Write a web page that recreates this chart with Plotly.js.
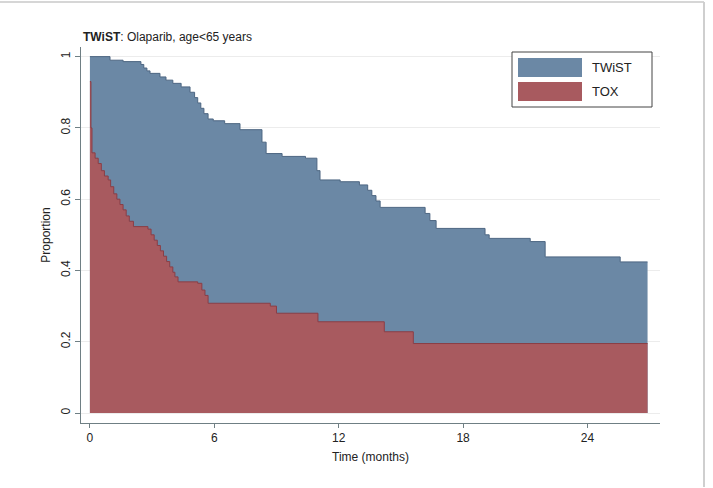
<!DOCTYPE html>
<html>
<head>
<meta charset="utf-8">
<script src="https://cdn.plot.ly/plotly-3.0.1.min.js"></script>
<style>html,body{margin:0;padding:0;background:#fff;}#chart{width:713px;height:488px;}</style>
</head>
<body>
<div id="chart"></div>
<script>
// Data (time in months, proportion)
const twistTime = [0, 0.97, 1.6, 2.46, 2.6, 2.75, 2.9, 3.38, 3.67, 4.0, 4.4, 4.83, 5.05, 5.2, 5.35, 5.5, 5.7, 5.95, 6.5, 7.24, 8.3, 8.5, 9.27, 10.4, 10.95, 11.1, 12.07, 13.0, 13.4, 13.6, 13.8, 14.0, 16.17, 16.4, 16.7, 19.06, 19.26, 21.24, 21.96, 25.58, 26.9];
const twistValue = [1.0, 0.99, 0.986, 0.978, 0.968, 0.96, 0.953, 0.943, 0.934, 0.925, 0.915, 0.90, 0.885, 0.87, 0.855, 0.84, 0.825, 0.82, 0.812, 0.795, 0.76, 0.728, 0.72, 0.715, 0.68, 0.654, 0.649, 0.64, 0.625, 0.61, 0.595, 0.577, 0.56, 0.54, 0.518, 0.50, 0.49, 0.481, 0.438, 0.424, 0.424];

const toxTime = [0, 0.05, 0.1, 0.25, 0.4, 0.55, 0.7, 0.88, 1.0, 1.15, 1.3, 1.45, 1.6, 1.75, 1.9, 2.1, 2.8, 2.95, 3.1, 3.25, 3.4, 3.55, 3.7, 3.85, 4.0, 4.1, 4.25, 5.2, 5.4, 5.55, 5.7, 8.7, 9.0, 11.0, 14.2, 15.6, 26.9];
const toxValue = [0.93, 0.80, 0.73, 0.715, 0.70, 0.68, 0.665, 0.654, 0.635, 0.615, 0.60, 0.585, 0.57, 0.553, 0.538, 0.523, 0.516, 0.50, 0.485, 0.47, 0.455, 0.44, 0.425, 0.41, 0.395, 0.382, 0.368, 0.364, 0.345, 0.33, 0.308, 0.30, 0.28, 0.256, 0.228, 0.195, 0.195];

const seriesNames = ["TWiST", "TOX"];
const xTicks = [0, 6, 12, 18, 24];
const yTicks = [0, 0.2, 0.4, 0.6, 0.8, 1];

const blueFill = "#6b88a5";
const blueLine = "#4d6682";
const redFill = "#a85a5f";
const redLine = "#8a3e46";
const axisCol = "#6f7f84";
const font = "Liberation Sans, Arial, sans-serif";

const traces = [
  {x: twistTime, y: twistValue, name: seriesNames[0], type: "scatter", mode: "lines",
   line: {shape: "hv", color: blueLine, width: 1}, fill: "tozeroy", fillcolor: blueFill, hoverinfo: "skip"},
  {x: toxTime, y: toxValue, name: seriesNames[1], type: "scatter", mode: "lines",
   line: {shape: "hv", color: redLine, width: 1}, fill: "tozeroy", fillcolor: redFill, hoverinfo: "skip"}
];

const L = 81, R = 660, T = 47, B = 423, W = 713, H = 488;
const px = v => (v - L) / (R - L);
const py = v => (B - v) / (B - T);

const shapes = [
  {type: "rect", xref: "paper", yref: "paper", x0: px(512), x1: px(652), y0: py(107), y1: py(52),
   line: {color: "#444", width: 1}, fillcolor: "#fff"},
  {type: "rect", xref: "paper", yref: "paper", x0: px(518), x1: px(582), y0: py(77), y1: py(58),
   line: {color: blueFill, width: 0}, fillcolor: blueFill},
  {type: "rect", xref: "paper", yref: "paper", x0: px(518), x1: px(582), y0: py(101), y1: py(82),
   line: {color: redFill, width: 0}, fillcolor: redFill},
  {type: "line", xref: "paper", yref: "paper", x0: px(0), x1: px(704), y0: py(2), y1: py(2),
   line: {color: "#d6d6d6", width: 2}},
  {type: "line", xref: "paper", yref: "paper", x0: px(704), x1: px(704), y0: py(2), y1: py(487),
   line: {color: "#cfcfcf", width: 2}}
];

const annotations = [
  {xref: "paper", yref: "paper", x: px(590), y: py(67.5), xanchor: "left", yanchor: "middle",
   text: seriesNames[0], showarrow: false, font: {family: font, size: 13, color: "#222"}},
  {xref: "paper", yref: "paper", x: px(590), y: py(91.5), xanchor: "left", yanchor: "middle",
   text: seriesNames[1], showarrow: false, font: {family: font, size: 13, color: "#222"}}
];

const layout = {
  width: W, height: H,
  margin: {l: L, r: W - R, t: T, b: H - B, pad: 0},
  paper_bgcolor: "#fff", plot_bgcolor: "#fff",
  showlegend: false,
  font: {family: font, size: 12, color: "#222"},
  title: {text: "<b>TWiST</b>: Olaparib, age&lt;65 years", x: px(83), xref: "paper", xanchor: "left",
          y: 1 - 37 / H, yref: "container", yanchor: "middle", font: {family: font, size: 12, color: "#222"}},
  xaxis: {range: [-0.43, 27.5], tickmode: "array", tickvals: xTicks, ticks: "outside", ticklen: 4,
          tickcolor: axisCol, showline: true, linecolor: axisCol, linewidth: 1, showgrid: false, zeroline: false,
          tickfont: {size: 12, color: "#222"},
          title: {text: "Time (months)", font: {size: 12, color: "#222"}, standoff: 8}},
  yaxis: {range: [-0.028, 1.027], tickmode: "array", tickvals: yTicks, ticks: "outside", ticklen: 5,
          tickcolor: axisCol, showline: true, linecolor: axisCol, linewidth: 1, showgrid: true,
          gridcolor: "#ececec", gridwidth: 1, zeroline: false, tickangle: -90,
          tickfont: {size: 12, color: "#222"},
          title: {text: "Proportion", font: {size: 12, color: "#222"}, standoff: 6}},
  shapes: shapes,
  annotations: annotations
};

Plotly.newPlot("chart", traces, layout, {staticPlot: true, displayModeBar: false});
</script>
</body>
</html>
